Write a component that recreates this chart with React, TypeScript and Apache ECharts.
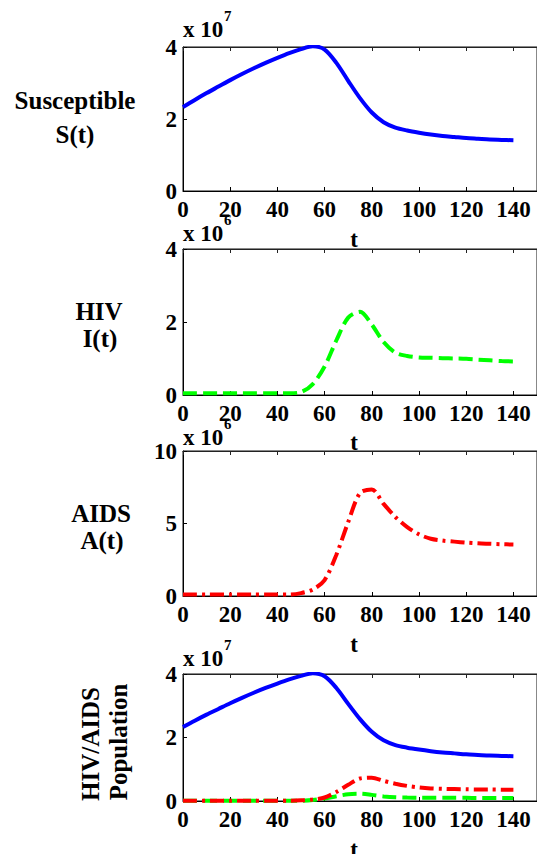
import React, { useEffect, useRef } from "react";
import * as echarts from "echarts";

// time (t) samples
const T = [0, 5, 10, 15, 20, 25, 30, 35, 40, 45, 50, 55, 60, 65, 70, 75, 80, 85, 90, 95, 100, 105, 110, 115, 120, 125, 130, 135, 140];
// populations in millions
const S = [23.3, 25.3, 27.2, 29.0, 30.8, 32.5, 34.1, 35.6, 37.0, 38.3, 39.4, 40.2, 39.3, 35.6, 30.6, 25.8, 21.8, 19.1, 17.6, 16.8, 16.2, 15.7, 15.3, 15.0, 14.7, 14.5, 14.3, 14.2, 14.1];
const I = [0.05, 0.05, 0.05, 0.05, 0.05, 0.05, 0.05, 0.05, 0.05, 0.05, 0.08, 0.3, 0.78, 1.5, 2.12, 2.28, 1.93, 1.45, 1.16, 1.07, 1.03, 1.02, 1.01, 1.0, 0.99, 0.97, 0.95, 0.93, 0.92];
const A = [0.1, 0.1, 0.1, 0.1, 0.1, 0.1, 0.1, 0.1, 0.1, 0.1, 0.2, 0.45, 1.1, 2.85, 5.1, 7.1, 7.35, 6.35, 5.45, 4.75, 4.25, 3.95, 3.82, 3.75, 3.68, 3.63, 3.6, 3.57, 3.55];

const X_TICKS = { min: 0, max: 150, interval: 20 };
const Y_MAX = [40, 4, 10, 40];
const Y_INTERVAL = [20, 2, 5, 20];
const Y_DIVISOR = [10, 1, 1, 10];
const EXPONENTS = ["7", "6", "6", "7"];
const SIDE_LABELS = [
  ["Susceptible", "S(t)"],
  ["HIV", "I(t)"],
  ["AIDS", "A(t)"],
];
const ROTATED_LABELS = ["HIV/AIDS", "Population"];

const FONT = "'Liberation Serif', 'Times New Roman', serif";
const GRIDS = [
  { top: 47, height: 144 },
  { top: 249, height: 146 },
  { top: 451, height: 145 },
  { top: 674, height: 127 },
];

const pairs = (vals: number[]) => T.map((t, i) => [t, vals[i]]);

export default function App() {
  const ref = useRef<HTMLDivElement>(null);
  useEffect(() => {
    if (!ref.current) return;
    const chart = echarts.init(ref.current, undefined, { renderer: "svg" });
    const labelStyle = { fontSize: 23, fontWeight: "bold" as const, fontFamily: FONT, color: "#000" };

    const grid = GRIDS.map((g) => ({
      left: 183,
      width: 364,
      top: g.top,
      height: g.height,
      show: true,
      borderColor: "#111",
      borderWidth: 1,
      backgroundColor: "transparent",
    }));

    const xAxis: any[] = [];
    GRIDS.forEach((_, i) => {
      xAxis.push({
        gridIndex: i,
        type: "value",
        ...X_TICKS,
        position: "bottom",
        axisLine: { show: true, onZero: false, lineStyle: { color: "#000", width: 1 } },
        axisTick: { show: true, inside: true, length: 4, lineStyle: { color: "#000" } },
        axisLabel: { ...labelStyle, margin: 7, showMaxLabel: false },
        splitLine: { show: false },
      });
      xAxis.push({
        gridIndex: i,
        type: "value",
        ...X_TICKS,
        position: "top",
        axisLine: { show: true, onZero: false, lineStyle: { color: "#222", width: 1 } },
        axisTick: { show: true, inside: true, length: 4, lineStyle: { color: "#222" } },
        axisLabel: { show: false },
        splitLine: { show: false },
      });
    });

    const yAxis = GRIDS.map((_, i) => ({
      gridIndex: i,
      type: "value",
      min: 0,
      max: Y_MAX[i],
      interval: Y_INTERVAL[i],
      axisLine: { show: true, onZero: false, lineStyle: { color: "#000", width: 1 } },
      axisTick: { show: true, inside: true, length: 4, lineStyle: { color: "#000" } },
      axisLabel: { ...labelStyle, margin: 6, formatter: (v: number) => String(v / Y_DIVISOR[i]) },
      splitLine: { show: false },
    }));

    const blue = (xi: number, yi: number) => ({
      type: "line", xAxisIndex: xi, yAxisIndex: yi, data: pairs(S), showSymbol: false, symbol: "none",
      smooth: 0.3, lineStyle: { color: "#0000ff", width: 4 },
    });
    const green = (xi: number, yi: number) => ({
      type: "line", xAxisIndex: xi, yAxisIndex: yi, data: pairs(I), showSymbol: false, symbol: "none",
      smooth: 0.3, lineStyle: { color: "#00ff00", width: 4, type: [14, 6], cap: "butt" },
    });
    const red = (xi: number, yi: number) => ({
      type: "line", xAxisIndex: xi, yAxisIndex: yi, data: pairs(A), showSymbol: false, symbol: "none",
      smooth: 0.3, lineStyle: { color: "#ff0000", width: 4, type: [14, 5, 3, 5], cap: "butt" },
    });

    const series = [blue(0, 0), green(2, 1), red(4, 2), blue(6, 3), green(6, 3), red(6, 3)];

    const txt = (text: string, x: number, y: number, size: number, extra: any = {}) => ({
      type: "text",
      x,
      y,
      ...extra,
      style: {
        text,
        fontSize: size,
        fontWeight: "bold",
        fontFamily: FONT,
        fill: "#000",
        textAlign: extra.align || "center",
        textVerticalAlign: "middle",
      },
    });

    const graphic: any[] = [];
    const expY = [29, 233, 437, 658];
    expY.forEach((y, i) => {
      graphic.push(txt("x 10", 183, y, 23, { align: "left" }));
      graphic.push(txt(EXPONENTS[i], 224, y - 13, 15, { align: "left" }));
    });
    const tY = [239, 442, 644, 849];
    tY.forEach((y) => graphic.push(txt("t", 354, y, 23)));

    const sidePos = [
      [[75, 100], [75, 134]],
      [[99, 311], [100, 338]],
      [[101, 513], [102, 540]],
    ];
    SIDE_LABELS.forEach((pair, i) => {
      pair.forEach((s, j) => graphic.push(txt(s, sidePos[i][j][0], sidePos[i][j][1], 25)));
    });
    graphic.push(txt(ROTATED_LABELS[0], 90, 744, 25, { rotation: Math.PI / 2 }));
    graphic.push(txt(ROTATED_LABELS[1], 118, 742, 25, { rotation: Math.PI / 2 }));

    chart.setOption({
      animation: false,
      backgroundColor: "#fff",
      grid,
      xAxis,
      yAxis,
      series,
      graphic,
    });
    return () => chart.dispose();
  }, []);

  return (
    <div
      ref={ref}
      style={{ position: "absolute", left: 0, top: 0, width: 537, height: 854, background: "#fff" }}
    />
  );
}
